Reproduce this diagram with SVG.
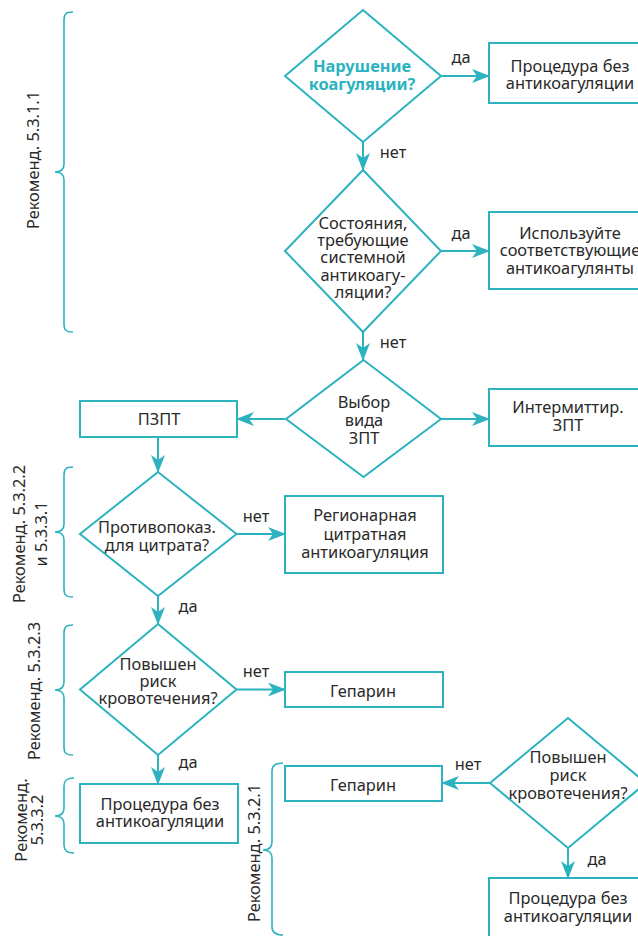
<svg xmlns="http://www.w3.org/2000/svg" width="638" height="936" viewBox="0 0 638 936">
<style>
.sh{fill:#fff;stroke:#2cb3bf;stroke-width:2}
.ln{fill:none;stroke:#2cb3bf;stroke-width:2}
.br{fill:none;stroke:#2cb3bf;stroke-width:1.6}
text{font-family:"Noto Sans","Liberation Sans",sans-serif;font-size:16.4px;fill:#2a2a2a;text-anchor:middle}
.t{font-weight:bold;fill:#2cb3bf}
</style>
<defs>
<marker id="ah" markerUnits="userSpaceOnUse" markerWidth="18" markerHeight="14" refX="17" refY="7" orient="auto">
<path d="M0,0 L18,7 L0,14 L5,7 Z" fill="#2cb3bf"/>
</marker>
</defs>
<rect width="638" height="936" fill="#fff"/>
<g id="connectors">
<line class="ln" x1="363" y1="142" x2="363" y2="170" marker-end="url(#ah)"/>
<line class="ln" x1="441" y1="76" x2="489" y2="76" marker-end="url(#ah)"/>
<line class="ln" x1="363" y1="332" x2="363" y2="360" marker-end="url(#ah)"/>
<line class="ln" x1="441" y1="251" x2="489" y2="251" marker-end="url(#ah)"/>
<line class="ln" x1="285" y1="419" x2="237" y2="419" marker-end="url(#ah)"/>
<line class="ln" x1="441" y1="419" x2="489" y2="419" marker-end="url(#ah)"/>
<line class="ln" x1="158" y1="437" x2="158" y2="472" marker-end="url(#ah)"/>
<line class="ln" x1="236.5" y1="534" x2="285" y2="534" marker-end="url(#ah)"/>
<line class="ln" x1="158" y1="596" x2="158" y2="624" marker-end="url(#ah)"/>
<line class="ln" x1="236.5" y1="689.5" x2="285" y2="689.5" marker-end="url(#ah)"/>
<line class="ln" x1="158" y1="755" x2="158" y2="784" marker-end="url(#ah)"/>
<line class="ln" x1="490" y1="783" x2="442" y2="783" marker-end="url(#ah)"/>
<line class="ln" x1="568" y1="848" x2="568" y2="878" marker-end="url(#ah)"/>
<text x="461" y="63">да</text>
<text x="393" y="158">нет</text>
<text x="461" y="239">да</text>
<text x="393" y="348">нет</text>
<text x="256" y="522">нет</text>
<text x="188" y="612">да</text>
<text x="256" y="677">нет</text>
<text x="188" y="768">да</text>
<text x="468" y="770">нет</text>
<text x="597" y="865">да</text>
</g>
<g id="brackets">
<path class="br" d="M73,12 C66,12 64,14 64,20 L64,164 C64,170 60,172 55,172 C60,172 64,174 64,180 L64,324 C64,330 66,332 73,332"/>
<text transform="translate(38.5,160) rotate(-90)">Рекоменд. 5.3.1.1</text>
<path class="br" d="M73,467 C66,467 64,469 64,475 L64,524 C64,530 60,532 55,532 C60,532 64,534 64,540 L64,589 C64,595 66,597 73,597"/>
<text transform="translate(25,534) rotate(-90)">Рекоменд. 5.3.2.2</text>
<text transform="translate(46.5,534) rotate(-90)">и 5.3.3.1</text>
<path class="br" d="M73,625 C66,625 64,627 64,633 L64,682 C64,688 60,690 55,690 C60,690 64,692 64,698 L64,747 C64,753 66,755 73,755"/>
<text transform="translate(39.5,691) rotate(-90)">Рекоменд. 5.3.2.3</text>
<path class="br" d="M74,778 C67,778 64,780 64,786 L64,808 C64,814 60,816 55,816 C60,816 64,818 64,824 L64,845 C64,851 67,853 74,853"/>
<text transform="translate(26.5,820) rotate(-90)">Рекоменд.</text>
<text transform="translate(43,820) rotate(-90)">5.3.3.2</text>
<path class="br" d="M283,763 C276,763 272,765 272,771 L272,842 C272,848 268,850 263,850 C268,850 272,852 272,858 L272,927 C272,933 276,935 283,935"/>
<text transform="translate(260,853) rotate(-90)">Рекоменд. 5.3.2.1</text>
</g>
<g id="n1"><polygon class="sh" points="363,10 441,76 363,142 285,76"/><text class="t" x="362" y="72">Нарушение</text><text class="t" x="362" y="89.5">коагуляции?</text></g>
<g id="n2"><rect class="sh" x="489" y="43" width="162" height="60"/><text x="570" y="72">Процедура без</text><text x="570" y="89">антикоагуляции</text></g>
<g id="n3"><polygon class="sh" points="363,170 441,251 363,332 285,251"/><text x="363" y="228.5">Состояния,</text><text x="363" y="246">требующие</text><text x="363" y="263">системной</text><text x="363" y="280.5">антикоагу-</text><text x="363" y="297.5">ляции?</text></g>
<g id="n4"><rect class="sh" x="489" y="212" width="162" height="77"/><text x="570" y="238.5">Используйте</text><text x="570" y="256">соответствующие</text><text x="570" y="273.5">антикоагулянты</text></g>
<g id="n5"><polygon class="sh" points="363.5,360 441,419 363.5,477 286,419"/><text x="364" y="408">Выбор</text><text x="364" y="426">вида</text><text x="364" y="444">ЗПТ</text></g>
<g id="n6"><rect class="sh" x="80" y="401" width="157" height="36"/><text x="159" y="425">ПЗПТ</text></g>
<g id="n7"><rect class="sh" x="489" y="389" width="162" height="57"/><text x="568" y="413">Интермиттир.</text><text x="568" y="431">ЗПТ</text></g>
<g id="n8"><polygon class="sh" points="158,472 236.5,534 158,596 80,534"/><text x="157" y="533">Противопоказ.</text><text x="157" y="551">для цитрата?</text></g>
<g id="n9"><rect class="sh" x="285" y="496" width="158" height="77"/><text x="365" y="521">Регионарная</text><text x="365" y="540">цитратная</text><text x="365" y="558">антикоагуляция</text></g>
<g id="n10"><polygon class="sh" points="158,624 236.5,689.5 158,755 80,689.5"/><text x="158" y="670">Повышен</text><text x="158" y="687">риск</text><text x="158" y="704">кровотечения?</text></g>
<g id="n11"><rect class="sh" x="285" y="672" width="158" height="35"/><text x="363" y="697">Гепарин</text></g>
<g id="n12"><rect class="sh" x="80" y="784" width="158" height="59"/><text x="160" y="809.5">Процедура без</text><text x="160" y="827">антикоагуляции</text></g>
<g id="n13"><rect class="sh" x="285" y="766" width="157" height="35"/><text x="363" y="791">Гепарин</text></g>
<g id="n14"><polygon class="sh" points="568,718 646,783 568,848 490,783"/><text x="568" y="763">Повышен</text><text x="568" y="781">риск</text><text x="568" y="799">кровотечения?</text></g>
<g id="n15"><rect class="sh" x="489" y="878" width="162" height="70"/><text x="568" y="904">Процедура без</text><text x="568" y="922">антикоагуляции</text></g>
</svg>
